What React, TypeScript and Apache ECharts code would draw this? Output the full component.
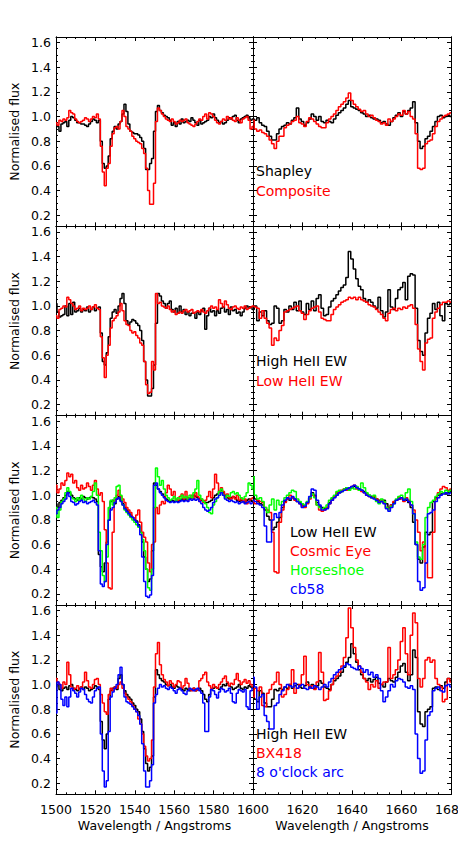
import React, { useEffect, useRef } from "react";
import * as echarts from "echarts";

// ---------- wavelength grids (1 Å bins) ----------
const WL_LEFT = Array.from({ length: 101 }, (_, i) => 1500 + i);
const WL_RIGHT = Array.from({ length: 81 }, (_, i) => 1600 + i);

// ---------- tick values ----------
const X_LEFT_RANGE = [1500, 1600];
const X_RIGHT_RANGE = [1600, 1680];
const Y_RANGE = [0.11, 1.645];
const Y_MAJOR = [0.2, 0.4, 0.6, 0.8, 1.0, 1.2, 1.4, 1.6];
const Y_MINOR = [0.15, 0.2, 0.25, 0.3, 0.35, 0.4, 0.45, 0.5, 0.55, 0.6, 0.65, 0.7, 0.75, 0.8, 0.85, 0.9, 0.95, 1.0, 1.05, 1.1, 1.15, 1.2, 1.25, 1.3, 1.35, 1.4, 1.45, 1.5, 1.55, 1.6];

// ---------- row 1 : Shapley vs Composite ----------
const R1L_SHAPLEY = [
  0.93, 0.92, 0.88, 0.94, 0.95, 0.96, 0.92, 0.97, 1.0, 0.99,
  0.97, 0.95, 0.95, 0.94, 0.94, 0.93, 0.92, 0.94, 0.96, 0.98,
  0.97, 0.95, 0.97, 0.8, 0.62, 0.58, 0.6, 0.68, 0.82, 0.88,
  0.92, 0.9, 0.94, 0.96, 1.02, 1.1, 1.04, 0.94, 0.88, 0.87,
  0.86, 0.86, 0.85, 0.83, 0.8, 0.74, 0.57, 0.57, 0.62, 0.66,
  0.88, 1.04, 1.09, 1.05, 1.03, 1.01, 1.0, 0.99, 0.97, 0.93,
  0.95, 0.92, 0.96, 0.94, 0.98, 0.95, 0.96, 0.97, 0.96, 0.99,
  0.97, 0.95, 0.93, 0.97, 0.94, 0.95, 0.96, 0.97, 1.0, 0.99,
  1.02, 0.99, 0.97, 0.95, 0.96, 0.94, 0.95, 0.97, 0.99, 0.98,
  1.0, 1.01, 0.97, 0.95, 0.98, 0.99, 1.0, 1.01, 0.99, 0.97,
  0.98,
];
const R1L_COMPOSITE = [
  0.95, 0.93, 0.97, 0.96, 0.98, 0.97, 0.99, 1.05, 1.03, 1.02,
  0.98, 0.96, 0.95, 0.96, 0.97, 0.99, 0.98, 0.96, 0.98, 1.0,
  0.99, 1.02, 0.98, 0.76, 0.55, 0.44, 0.58, 0.62, 0.76, 0.86,
  0.91, 0.92, 0.9, 0.96, 1.05, 1.0, 0.92, 0.9, 0.88, 0.84,
  0.82, 0.8, 0.79, 0.78, 0.74, 0.7, 0.58, 0.4, 0.29, 0.29,
  0.46, 0.96, 1.07, 1.05, 1.02, 1.0, 0.98, 0.97, 0.96, 0.98,
  0.96, 0.94, 0.95, 0.97, 0.96, 0.97, 0.98, 0.95, 0.94, 0.93,
  0.92, 0.94, 0.96, 0.98, 0.97, 1.0, 1.02, 0.98, 1.03, 1.02,
  1.0, 0.97, 0.95, 0.94, 0.96, 0.98, 0.97, 1.0, 0.98, 0.99,
  0.97, 0.96, 0.99, 0.97, 0.95, 0.98, 0.99, 1.0, 0.97, 0.9,
  0.92,
];
const R1R_SHAPLEY = [
  0.98, 0.97, 0.99, 0.95, 0.93, 0.92, 0.88, 0.84, 0.81, 0.81,
  0.86, 0.9, 0.92, 0.93, 0.95, 0.94, 0.97, 0.99, 1.07, 0.98,
  0.96, 0.93, 0.95, 0.98, 1.02, 1.0, 0.97, 1.0, 0.96, 0.95,
  0.97, 0.96, 0.95, 0.98, 1.01, 1.03, 1.05, 1.07, 1.1, 1.13,
  1.08, 1.07, 1.06, 1.05, 1.03, 1.02, 1.0, 1.01, 0.99, 0.98,
  0.98, 0.97, 0.95, 0.96, 0.94, 0.93, 0.96, 0.99, 1.01, 1.03,
  1.0, 1.04, 1.02, 1.05, 1.07, 1.12, 0.95, 0.8, 0.74, 0.76,
  0.82, 0.84, 0.88, 0.92, 0.96, 1.0, 1.01, 0.99, 1.0, 1.01,
  1.0,
];
const R1R_COMPOSITE = [
  0.97, 0.9, 0.88, 0.89, 0.87, 0.86, 0.84, 0.81, 0.78, 0.74,
  0.8, 0.84, 0.84, 0.91, 0.93, 0.94, 0.96, 0.97, 1.0, 0.95,
  0.94, 0.92, 0.96, 0.99, 0.98, 0.96, 0.94, 0.92, 0.91, 0.91,
  0.95, 0.98, 1.0, 1.02, 1.05, 1.08, 1.1, 1.12, 1.15, 1.19,
  1.13, 1.1, 1.08, 1.06, 1.04, 1.05, 1.02, 1.0, 1.01, 0.99,
  0.97, 0.96, 0.94, 0.95, 0.93, 0.98, 0.96, 0.98, 1.0, 1.02,
  1.01, 1.05, 1.02, 1.04, 1.0, 0.98, 0.86, 0.58, 0.57, 0.58,
  0.78, 0.8, 0.81, 0.86, 0.92, 0.96, 0.98, 1.0, 1.01, 1.02,
  1.03,
];

// ---------- row 2 : High vs Low HeII EW ----------
const R2L_HIGH = [
  1.02, 0.95, 0.91, 0.92, 0.93, 1.0, 0.92, 1.02, 0.93, 1.03,
  0.95, 0.96, 0.98, 0.95, 0.97, 0.96, 0.99, 0.95, 0.97, 0.99,
  0.96, 0.98, 0.99, 0.78, 0.55, 0.52, 0.62, 0.75, 0.9, 0.95,
  0.97, 0.94, 1.0, 1.06, 1.1, 1.02, 0.88, 0.85, 0.87, 0.89,
  0.88, 0.86, 0.84, 0.8, 0.72, 0.55, 0.4, 0.27, 0.27, 0.33,
  0.52, 0.86, 1.1, 1.08, 1.04, 1.02, 0.98, 1.02, 1.04, 0.97,
  0.95, 0.98, 0.94, 1.0, 0.95, 0.97, 0.93, 0.95, 0.92, 0.94,
  0.94, 0.9, 0.95, 0.93, 0.96, 0.98, 0.81, 0.92, 0.98, 0.95,
  0.96, 0.92, 0.96, 0.94, 0.98, 0.99, 0.95, 0.97, 0.93, 0.99,
  0.96, 0.97, 0.94, 0.95, 0.92, 0.95, 0.98, 1.0, 0.98, 0.99,
  0.97,
];
const R2L_LOW = [
  0.92, 0.9, 0.97, 0.98, 1.0, 0.99, 1.07, 1.05, 1.02, 1.0,
  0.97, 0.98, 1.0, 0.96, 0.98, 0.97, 0.98, 1.0, 0.97, 0.99,
  1.01, 0.98, 0.97, 0.75, 0.58, 0.42, 0.6, 0.68, 0.82, 0.88,
  0.9, 0.92, 0.95, 1.02, 0.96, 0.88, 0.85, 0.84, 0.8, 0.78,
  0.79, 0.76, 0.74, 0.7, 0.68, 0.55, 0.36, 0.29, 0.3, 0.55,
  0.48, 1.1, 1.02, 1.03, 1.0, 0.99, 0.98, 1.0, 0.97, 0.95,
  0.96, 0.93, 0.94, 0.95, 0.94, 0.96, 0.97, 0.95, 0.96, 0.97,
  0.94, 0.95, 0.96, 0.95, 0.97, 0.95, 0.94, 0.96, 0.98, 1.0,
  0.98, 0.99, 0.97, 1.05, 1.02, 0.99, 1.04, 1.01, 0.98, 0.97,
  0.99, 1.0, 0.98, 0.97, 0.99, 0.98, 1.0, 0.97, 0.98, 0.99,
  1.0,
];
const R2R_HIGH = [
  0.97, 1.0, 0.88, 0.95, 0.92, 0.96, 0.88, 0.85, 0.86, 1.0,
  0.98, 0.86, 0.88, 0.97, 0.95, 1.0, 0.97, 1.03, 0.96, 1.04,
  0.95, 0.93, 1.02, 0.97, 1.04, 0.96, 1.06, 1.09, 0.98, 0.92,
  0.93, 0.99, 1.04, 1.06, 1.09, 1.12, 1.15, 1.17, 1.23, 1.44,
  1.38, 1.3, 1.22, 1.16, 1.13, 1.06, 1.03, 1.05, 1.03, 1.0,
  0.98, 1.07, 0.96, 0.91, 0.95, 1.13, 0.99, 0.97, 1.06, 1.13,
  1.15, 1.19, 1.05, 1.24, 1.26, 1.25, 0.98, 0.72, 0.63, 0.6,
  0.78, 0.9, 0.94, 1.02, 0.97, 1.03, 0.92, 0.88, 1.02, 1.01,
  1.02,
];
const R2R_LOW = [
  1.0, 0.99, 0.98, 0.9, 0.96, 0.9, 0.86, 0.82, 0.68, 0.74,
  0.72, 0.8, 0.84, 0.95, 0.96, 0.97, 0.98, 0.99, 1.0, 0.96,
  0.94, 0.89, 0.93, 0.96, 0.98, 0.99, 1.0, 0.95, 0.9, 0.89,
  0.88, 0.88, 0.93, 0.97, 0.99, 1.01, 1.03, 1.04, 1.05, 1.07,
  1.06, 1.07, 1.05, 1.07, 1.05, 1.04, 1.03, 1.01, 1.0, 0.99,
  0.97, 0.95, 0.93, 0.9, 0.88, 0.94, 0.97, 0.98, 0.96, 0.98,
  0.97, 0.99, 0.98, 1.0, 1.01, 0.98, 0.85, 0.65, 0.55, 0.48,
  0.7, 0.73, 0.74, 0.9, 0.95, 0.98, 1.01, 1.03, 1.03, 1.04,
  1.03,
];

// ---------- row 3 : Low HeII EW, Cosmic Eye, Horseshoe, cb58 ----------
const R3L_LOW = [
  0.93, 0.9, 0.94, 0.96, 0.98, 1.0, 1.03, 1.02, 1.0, 0.98,
  0.97, 0.96, 0.98, 0.97, 0.99, 0.98, 0.97, 0.98, 0.99, 0.98,
  0.97, 0.95, 0.52, 0.42, 0.38, 0.45, 0.62, 0.8, 0.95, 0.96,
  0.93, 0.97, 0.99, 0.96, 0.93, 0.9, 0.88, 0.86, 0.84, 0.82,
  0.8, 0.79, 0.76, 0.7, 0.62, 0.5, 0.4, 0.3, 0.32, 0.55,
  1.1, 1.08, 1.05, 1.03, 1.01, 0.99, 0.97, 0.96, 0.95, 0.96,
  0.95, 0.96, 0.95, 0.96, 0.97, 0.96, 0.97, 0.98, 0.97, 0.98,
  1.0, 0.99, 0.98, 0.97, 0.96, 0.95, 0.94, 0.94, 0.95, 0.96,
  0.98, 1.0, 1.01, 1.03, 1.04, 1.02, 1.0, 0.98, 0.97, 0.98,
  0.99, 0.98, 0.96, 0.95, 0.96, 0.95, 0.94, 0.96, 0.97, 0.96,
  0.95,
];
const R3L_COSMIC = [
  1.08, 1.02, 1.05, 1.1, 1.08, 1.12, 1.18, 1.15, 1.17, 1.1,
  1.12, 1.06, 1.04, 1.08, 1.05, 1.06, 1.1, 1.07, 1.04, 1.08,
  1.12, 1.05, 1.0, 1.02, 0.95, 0.72, 0.45, 0.25, 0.24, 0.7,
  0.96, 1.0, 1.04, 0.99, 0.97, 0.94, 0.9, 0.88, 0.86, 0.82,
  0.8, 0.84, 0.88, 0.78, 0.7, 0.66, 0.62, 0.45, 0.38, 0.6,
  0.62, 0.9, 0.85, 0.92, 0.95, 0.93, 1.02, 1.08, 1.05, 1.0,
  1.03, 0.97, 0.96, 0.99, 1.01, 0.97, 1.03, 0.96, 0.98, 1.0,
  0.97, 1.02, 0.99, 0.95, 0.97, 0.94, 0.96, 0.99, 1.03, 0.98,
  1.05, 1.17, 1.1, 1.02, 1.06, 1.03, 0.99, 1.01, 0.98, 0.97,
  0.99, 0.97, 1.0, 0.96, 0.98, 0.95, 0.97, 0.93, 0.95, 0.97,
  0.98,
];
const R3L_HORSESHOE = [
  0.9, 0.82, 0.88, 0.95, 0.97, 1.02, 1.06, 1.03, 0.98, 0.97,
  0.95, 0.98, 0.96, 1.0, 0.97, 0.95, 0.98, 0.97, 0.99, 1.03,
  1.1, 1.0, 0.7, 0.55, 0.35, 0.3, 0.5, 0.9, 0.96, 0.92,
  0.98, 1.07, 1.08, 1.0, 0.92, 0.88, 0.86, 0.84, 0.82, 0.8,
  0.78, 0.76, 0.74, 0.7, 0.64, 0.55, 0.4, 0.25, 0.23, 0.4,
  0.9, 1.22, 1.15, 1.08, 1.12, 1.05, 1.0, 0.98, 0.96, 0.97,
  0.99, 0.96, 0.98, 0.97, 1.0, 0.98, 0.99, 0.97, 1.0, 0.98,
  1.02, 1.05, 1.12, 1.0, 0.97, 0.95, 0.93, 0.9, 0.86, 0.85,
  0.92, 0.95, 0.98, 1.03, 1.05, 1.0, 0.98, 1.0, 0.99, 1.02,
  1.03, 1.01, 1.02, 1.0, 0.98, 0.97, 0.99, 1.02, 1.1, 1.08,
  1.05,
];
const R3L_CB58 = [
  0.85, 0.88, 0.9, 0.93, 0.95, 0.97, 1.02, 0.99, 0.95, 0.94,
  0.92, 0.93, 0.95, 0.96, 0.94, 0.95, 0.93, 0.94, 0.95, 0.96,
  0.94, 0.92, 0.55, 0.28, 0.26, 0.3, 0.6, 0.8, 0.88, 0.9,
  0.94, 0.97, 0.98, 0.95, 0.92, 0.89, 0.87, 0.85, 0.83, 0.82,
  0.8, 0.78, 0.75, 0.68, 0.5, 0.3, 0.18, 0.17, 0.19, 0.35,
  1.08, 1.1, 1.05, 1.02, 1.0, 0.98, 0.96, 0.95, 0.94, 0.95,
  0.94, 0.95, 0.94, 0.95, 0.96, 0.95, 0.96, 0.95, 0.97, 0.96,
  0.97, 0.96, 0.97, 0.95, 0.93, 0.9, 0.88, 0.87, 0.88, 0.9,
  0.94, 0.97, 0.98, 1.0, 1.02, 1.0, 0.97, 0.96, 0.95, 0.96,
  0.95, 0.94, 0.95, 0.93, 0.94, 0.95, 0.93, 0.94, 0.95, 0.93,
  0.94,
];
const R3R_LOW = [
  0.99, 0.97, 0.95, 0.93, 0.92, 0.88, 0.83, 0.8, 0.72, 0.74,
  0.78, 0.82, 0.9, 0.95, 0.97, 0.96, 0.98, 0.97, 0.95, 0.94,
  0.92, 0.91, 0.94, 0.98, 1.02, 1.0, 0.94, 0.91, 0.9, 0.89,
  0.9, 0.94, 0.97, 0.99, 1.01, 1.02, 1.03, 1.05, 1.06, 1.05,
  1.06, 1.07, 1.06, 1.05, 1.04, 1.03, 1.01, 1.0, 0.99, 0.98,
  0.97, 0.96, 0.95, 0.96, 0.93, 0.9, 0.92, 0.94, 0.96, 0.97,
  0.98, 0.97, 0.96, 0.94, 0.9, 0.78, 0.6, 0.48, 0.45, 0.58,
  0.7, 0.68, 0.7, 0.95, 0.98, 1.0, 1.01, 1.02, 1.01, 1.02,
  1.03,
];
const R3R_COSMIC = [
  0.95, 0.93, 0.96, 0.95, 0.94, 0.9, 0.88, 0.86, 0.7, 0.38,
  0.37, 0.78, 0.88, 0.94, 0.97, 1.0, 0.98, 0.96, 0.95, 0.93,
  0.91, 0.9, 0.93, 0.97, 1.0, 0.99, 0.92, 0.88, 0.87, 0.88,
  0.9, 0.93, 0.96, 0.99, 1.02, 1.03, 1.04, 1.05, 1.04, 1.06,
  1.07, 1.08, 1.05, 1.04, 1.03, 1.02, 1.0, 0.99, 0.98, 0.99,
  0.97, 0.95, 0.96, 0.94, 0.9, 0.89, 0.92, 0.95, 0.96, 0.98,
  0.97, 0.95, 0.98, 0.96, 0.92, 0.88, 0.8, 0.7, 0.55, 0.62,
  0.45, 0.33, 0.33, 0.7, 0.97, 1.02, 1.05, 1.07, 1.06, 1.04,
  1.05,
];
const R3R_HORSESHOE = [
  1.15, 1.0, 0.97, 0.98, 0.95, 0.9, 0.86, 0.92, 0.97, 0.88,
  0.96, 0.92, 0.95, 0.98, 1.0, 1.02, 1.04, 1.03, 0.97, 0.95,
  0.93, 0.92, 0.95, 0.98, 1.01, 0.98, 0.92, 0.9, 0.89, 0.9,
  0.92, 0.96, 0.98, 1.0, 1.03, 1.04, 1.03, 1.05, 1.06, 1.04,
  1.06, 1.05, 1.07, 1.04, 1.1, 1.06, 1.02, 1.0, 0.98, 1.0,
  0.95, 0.93, 0.97, 0.95, 0.9, 0.88, 0.91, 0.93, 0.97, 0.99,
  1.0, 0.97, 1.02, 1.05, 0.95, 0.85, 0.62, 0.5, 0.48, 0.6,
  0.82, 0.9, 0.94, 0.96, 0.99, 1.01, 1.03, 1.02, 1.04, 1.03,
  1.04,
];
const R3R_CB58 = [
  0.96, 0.95, 0.93, 0.92, 0.9, 0.75, 0.62, 0.62, 0.8, 0.85,
  0.82, 0.86, 0.92, 0.96, 0.98, 0.97, 0.99, 0.97, 0.95, 0.93,
  0.9, 0.91, 0.94, 0.99, 1.05, 1.04, 0.96, 0.92, 0.88, 0.88,
  0.89, 0.93, 0.96, 0.98, 1.0, 1.02, 1.03, 1.04, 1.05, 1.06,
  1.07, 1.08, 1.06, 1.05, 1.04, 1.02, 1.0, 0.99, 0.98, 0.97,
  0.96, 0.94, 0.95, 0.93, 0.89, 0.87, 0.9, 0.93, 0.96, 0.97,
  0.98, 0.96, 0.97, 0.95, 0.92, 0.85, 0.6, 0.3, 0.23, 0.25,
  0.45, 0.85, 0.86, 0.88, 0.95, 0.98, 1.0, 1.01, 1.02, 1.01,
  1.02,
];

// ---------- row 4 : High HeII EW, BX418, 8 o'clock arc ----------
const R4L_HIGH = [
  0.98, 1.0, 0.96, 0.95, 0.97, 0.98, 0.96, 0.99, 1.0, 0.97,
  0.96, 0.95, 0.97, 0.98, 0.96, 0.98, 0.97, 0.95, 0.96, 0.97,
  0.99, 0.98, 0.96, 0.7, 0.55, 0.48, 0.6, 0.88, 0.95, 0.97,
  0.98, 0.96, 1.05, 1.08, 1.0, 0.95, 0.92, 0.9, 0.88, 0.85,
  0.83, 0.8, 0.78, 0.72, 0.62, 0.48, 0.36, 0.3, 0.33, 0.42,
  0.9, 1.12, 1.08, 1.05, 1.03, 1.02, 1.0, 0.99, 1.0, 0.98,
  0.97, 0.99, 0.98, 0.97, 0.96, 0.95, 0.97, 0.96, 0.95, 0.96,
  0.97, 0.95, 0.96, 0.97, 0.95, 0.92, 0.88, 0.86, 0.92, 0.96,
  0.97, 0.98, 0.97, 0.96, 0.98, 1.0, 0.99, 1.01, 0.99, 0.98,
  0.96, 0.97, 0.98, 1.0, 0.97, 0.96, 0.98, 0.97, 0.99, 0.98,
  0.97,
];
const R4L_BX418 = [
  1.05, 1.02, 1.0, 0.97, 1.02, 1.0, 1.18, 1.08, 0.98, 0.96,
  0.97, 0.99, 0.96, 0.98, 1.02, 1.1, 1.03, 0.98, 0.97, 1.0,
  1.04, 1.05, 1.0, 0.92, 0.85, 0.78, 0.76, 0.92, 0.97, 0.95,
  0.98, 0.97, 1.0, 1.02, 0.97, 0.93, 0.9, 0.88, 0.86, 0.83,
  0.8, 0.78, 0.72, 0.68, 0.6, 0.5, 0.42, 0.38, 0.4, 0.55,
  0.98, 1.25, 1.34, 1.16, 1.08, 1.04, 1.02, 0.99, 1.03, 1.01,
  0.98, 1.0, 1.03, 1.02, 0.97, 0.99, 1.05, 1.01, 0.96, 0.95,
  0.97, 0.95, 0.96, 1.03, 1.05, 1.08, 1.1, 1.02, 0.99, 0.97,
  1.0, 0.98, 0.97, 1.0, 1.02, 1.05, 1.07, 1.02, 0.99, 1.01,
  1.0, 1.04, 1.09, 1.03, 1.0, 1.02, 1.04, 1.01, 1.03, 1.0,
  0.98,
];
const R4L_8OCLOCK = [
  0.77, 1.02, 1.0, 0.88, 0.83, 0.9, 0.82, 0.9, 0.97, 0.95,
  0.93, 0.9, 0.94, 0.97, 0.96, 0.92, 0.88, 0.86, 0.85, 0.9,
  0.95, 0.97, 0.98, 0.6, 0.3, 0.17, 0.22, 0.62, 0.9, 0.94,
  0.97, 1.0, 1.08, 1.14, 1.0, 0.9, 0.86, 0.85, 0.84, 0.82,
  0.8, 0.78, 0.75, 0.68, 0.52, 0.3, 0.17, 0.17, 0.22, 0.35,
  0.85, 0.92, 0.97, 1.0, 0.98, 0.99, 0.97, 0.96, 0.98, 0.97,
  0.95, 0.93, 0.96, 0.97, 0.95, 0.93, 0.92, 0.95, 0.97, 0.96,
  0.95, 0.96, 0.97, 0.95, 0.93, 0.85, 0.62, 0.62, 0.9, 0.96,
  0.95, 0.92, 0.89, 0.94, 0.97, 0.96, 0.94, 0.95, 0.97, 0.93,
  0.86, 0.85, 0.93, 0.96, 0.95, 0.94, 0.96, 0.82, 0.8, 0.95,
  0.97,
];
const R4R_HIGH = [
  0.96, 0.88, 0.86, 0.95, 0.93, 0.85, 0.82, 0.82, 0.88, 0.96,
  0.95, 0.97, 0.96, 0.98, 0.97, 1.0, 0.97, 0.99, 1.0, 0.98,
  0.97, 0.99, 1.02, 0.98, 1.0, 0.97, 0.99, 1.03, 1.01, 0.98,
  0.97, 0.96, 1.0, 1.03, 1.05, 1.07, 1.1, 1.14, 1.18, 1.22,
  1.33, 1.25, 1.18, 1.12, 1.08, 1.05, 1.03, 1.05, 1.02, 1.04,
  1.06, 1.01, 1.0, 0.98, 1.02, 1.05, 1.03, 1.02, 1.06, 1.1,
  1.15, 1.17, 1.1, 1.03, 1.08, 1.28, 1.22, 0.78, 0.68, 0.66,
  0.78, 0.8, 0.82, 0.97, 0.98, 0.96, 0.99, 0.97, 1.02, 1.05,
  1.03,
];
const R4R_BX418 = [
  0.9, 0.97, 0.95, 0.98, 0.83, 0.82, 0.93, 0.96, 1.0, 1.02,
  1.1, 1.0, 0.9, 0.92, 0.96, 1.0, 1.12, 0.93, 0.97, 1.0,
  1.08, 1.23, 1.0, 0.97, 0.99, 0.96, 1.02, 1.26, 1.1, 0.87,
  0.88, 0.95, 1.0, 1.05, 1.07, 1.1, 1.15, 1.22, 1.38, 1.62,
  1.46, 1.3, 1.2, 1.15, 1.1, 1.05, 1.02, 0.96, 1.0, 0.98,
  1.03, 0.97, 1.0, 1.02, 1.02, 1.3, 1.05, 1.08, 1.12, 1.2,
  1.35, 1.46, 1.25, 1.08, 1.4, 1.58, 1.5, 1.05, 0.98, 1.05,
  1.2, 1.22, 1.18, 1.2, 1.05, 1.0, 0.98, 0.86, 0.88, 1.05,
  1.02,
];
const R4R_8OCLOCK = [
  1.06, 0.98, 0.8, 0.9, 0.92, 0.75, 0.7, 0.64, 0.64, 0.83,
  0.85, 0.92, 0.95, 0.98, 1.0, 0.99, 0.98, 1.01, 0.97, 0.99,
  1.0, 0.97, 0.96, 0.98, 0.97, 0.99, 0.98, 0.96, 0.98, 1.0,
  0.98, 1.02, 1.05, 1.08, 1.1, 1.12, 1.13, 1.15, 1.17, 1.16,
  1.14, 1.13, 1.12, 1.15, 1.13, 1.1, 1.12, 1.08, 1.1, 1.06,
  1.08, 1.05, 0.95, 0.86, 0.9, 0.95, 1.0, 0.98, 1.03, 1.05,
  1.04, 1.02, 0.98, 0.97, 0.99, 0.96, 0.6, 0.4, 0.28, 0.3,
  0.55, 0.75, 0.78, 0.95, 0.97, 0.98, 0.95, 0.94, 0.99, 1.0,
  0.98,
];

// ---------- legend labels per row ----------
const ROW_LABELS = [
  ["Shapley", "Composite"],
  ["High HeII EW", "Low HeII EW"],
  ["Low HeII EW", "Cosmic Eye", "Horseshoe", "cb58"],
  ["High HeII EW", "BX418", "8 o'clock arc"],
];
const ROW_LEFT_DATA = [
  [R1L_SHAPLEY, R1L_COMPOSITE],
  [R2L_HIGH, R2L_LOW],
  [R3L_LOW, R3L_COSMIC, R3L_HORSESHOE, R3L_CB58],
  [R4L_HIGH, R4L_BX418, R4L_8OCLOCK],
];
const ROW_RIGHT_DATA = [
  [R1R_SHAPLEY, R1R_COMPOSITE],
  [R2R_HIGH, R2R_LOW],
  [R3R_LOW, R3R_COSMIC, R3R_HORSESHOE, R3R_CB58],
  [R4R_HIGH, R4R_BX418, R4R_8OCLOCK],
];

// ---------- styles / layout ----------
const ROW_COLORS = [
  ["#000000", "#ff0000"],
  ["#000000", "#ff0000"],
  ["#000000", "#ff0000", "#00ff00", "#0000ff"],
  ["#000000", "#ff0000", "#0000ff"],
];
const LEGEND_POS = [
  { x: 256, y: 171, gap: 20 },
  { x: 256, y: 361, gap: 19.5 },
  { x: 290, y: 532, gap: 18.9 },
  { x: 256, y: 734, gap: 19 },
];
const FONT = "DejaVu Sans";
const GRID_TOP = 37;
const ROW_H = 189.33;
const COL_LEFT = [56, 253];
const COL_W = [197, 198];

function buildOption() {
  const grid: any[] = [];
  const xAxis: any[] = [];
  const yAxis: any[] = [];
  const series: any[] = [];
  const graphic: any[] = [];
  const labelStyle = { color: "#000", fontFamily: FONT, fontSize: 12.5 };

  for (let r = 0; r < 4; r++) {
    for (let c = 0; c < 2; c++) {
      const g = r * 2 + c;
      grid.push({
        left: COL_LEFT[c],
        top: GRID_TOP + r * ROW_H,
        width: COL_W[c],
        height: ROW_H,
        containLabel: false,
        outerBoundsMode: "none",
      });
      const range = c === 0 ? X_LEFT_RANGE : X_RIGHT_RANGE;
      const xBase = {
        gridIndex: g,
        type: "value",
        min: range[0],
        max: range[1],
        interval: 20,
        axisLine: { show: true, onZero: false, lineStyle: { color: "#000", width: 1 } },
        axisTick: { show: true, inside: true, length: 4, lineStyle: { color: "#000" } },
        minorTick: { show: true, splitNumber: 4, length: 2, lineStyle: { color: "#000" } },
        splitLine: { show: false },
        minorSplitLine: { show: false },
      };
      xAxis.push({
        ...xBase,
        position: "bottom",
        axisLabel: {
          show: r === 3,
          showMinLabel: c === 0,
          showMaxLabel: true,
          alignMinLabel: "center",
          alignMaxLabel: "center",
          hideOverlap: false,
          margin: 9,
          formatter: (v: number) => String(v),
          ...labelStyle,
        },
        name: r === 3 ? "Wavelength / Angstroms" : "",
        nameLocation: "middle",
        nameGap: 25,
        nameTextStyle: labelStyle,
      });
      xAxis.push({ ...xBase, position: "top", axisLabel: { show: false } });

      const yBase = {
        gridIndex: g,
        type: "value",
        min: Y_RANGE[0],
        max: Y_RANGE[1],
        splitLine: { show: false },
        axisLine: { show: true, onZero: false, lineStyle: { color: "#000", width: 1 } },
      };
      yAxis.push({
        ...yBase,
        position: "left",
        axisTick: { show: true, inside: true, length: 2, customValues: Y_MINOR, lineStyle: { color: "#000" } },
        axisLabel: {
          show: c === 0,
          customValues: Y_MAJOR,
          margin: 5,
          formatter: (v: number) => v.toFixed(1),
          ...labelStyle,
        },
        name: c === 0 ? "Normalised flux" : "",
        nameLocation: "middle",
        nameGap: 35,
        nameTextStyle: labelStyle,
      });
      yAxis.push({
        ...yBase,
        position: "left",
        axisTick: { show: true, inside: true, length: 4, customValues: Y_MAJOR, lineStyle: { color: "#000" } },
        axisLabel: { show: false },
      });
      yAxis.push({
        ...yBase,
        position: "right",
        axisTick: { show: true, inside: true, length: 2, customValues: Y_MINOR, lineStyle: { color: "#000" } },
        axisLabel: { show: false },
      });
      yAxis.push({
        ...yBase,
        position: "right",
        axisTick: { show: true, inside: true, length: 4, customValues: Y_MAJOR, lineStyle: { color: "#000" } },
        axisLabel: { show: false },
      });

      const wl = c === 0 ? WL_LEFT : WL_RIGHT;
      const rowData = c === 0 ? ROW_LEFT_DATA[r] : ROW_RIGHT_DATA[r];
      rowData.forEach((vals, k) => {
        series.push({
          type: "line",
          name: ROW_LABELS[r][k],
          xAxisIndex: 2 * g,
          yAxisIndex: 4 * g,
          data: wl.map((x, i) => [x, vals[i]]),
          step: "middle",
          showSymbol: false,
          symbol: "none",
          silent: true,
          clip: true,
          z: 2 + k,
          lineStyle: { color: ROW_COLORS[r][k], width: 1.5 },
          itemStyle: { color: ROW_COLORS[r][k] },
        });
      });
    }
    const pos = LEGEND_POS[r];
    ROW_LABELS[r].forEach((label, k) => {
      graphic.push({
        type: "text",
        x: pos.x,
        y: pos.y + k * pos.gap,
        z: 100,
        style: {
          text: label,
          fill: ROW_COLORS[r][k],
          fontFamily: FONT,
          fontSize: 14,
          textAlign: "left",
          textVerticalAlign: "middle",
        },
      });
    });
  }

  return {
    animation: false,
    backgroundColor: "#ffffff",
    grid,
    xAxis,
    yAxis,
    series,
    graphic,
  };
}

export default function App() {
  const ref = useRef<HTMLDivElement>(null);
  useEffect(() => {
    if (!ref.current) return;
    const chart = echarts.init(ref.current, null, { renderer: "svg" });
    chart.setOption(buildOption() as any);
    return () => chart.dispose();
  }, []);
  return (
    <div
      ref={ref}
      style={{ position: "absolute", left: 0, top: 0, width: 458, height: 859 }}
    />
  );
}
